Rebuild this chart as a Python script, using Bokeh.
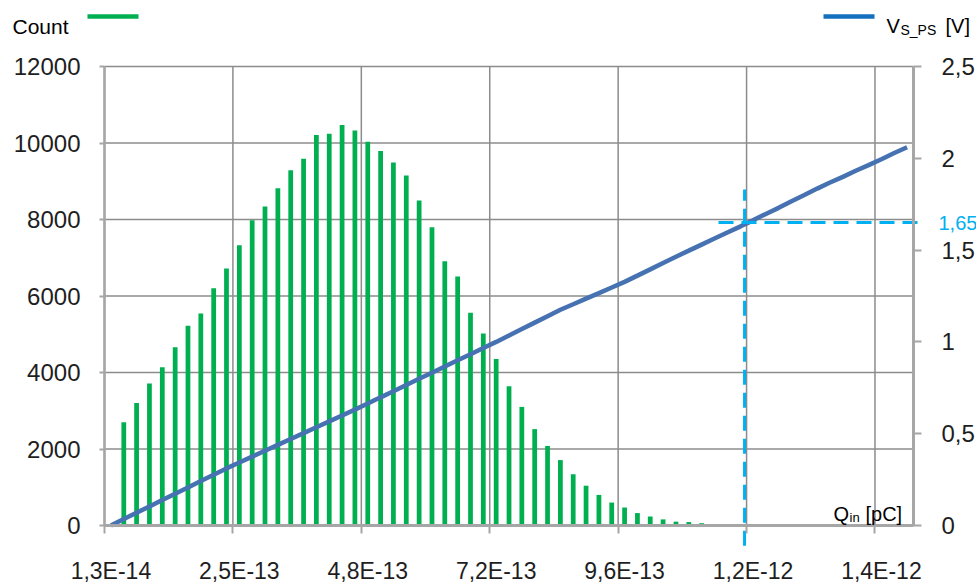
from bokeh.plotting import figure
from bokeh.models import Range1d, LinearAxis, FixedTicker, Label
from bokeh.embed import file_html
from bokeh.resources import INLINE

# Input charge bins, in pC (bin centres)
Q_PC = [0.0130, 0.0366, 0.0601, 0.0837, 0.1073, 0.1309, 0.1544, 0.1780, 0.2016, 0.2251,
        0.2487, 0.2723, 0.2958, 0.3194, 0.3430, 0.3666, 0.3901, 0.4137, 0.4373, 0.4608,
        0.4844, 0.5080, 0.5315, 0.5551, 0.5787, 0.6023, 0.6258, 0.6494, 0.6730, 0.6965,
        0.7201, 0.7437, 0.7672, 0.7908, 0.8144, 0.8380, 0.8615, 0.8851, 0.9087, 0.9322,
        0.9558, 0.9794, 1.0029, 1.0265, 1.0501, 1.0737, 1.0972, 1.1208, 1.1444, 1.1679,
        1.1915, 1.2151, 1.2386, 1.2622, 1.2858, 1.3094, 1.3329, 1.3565, 1.3801, 1.4036,
        1.4272, 1.4508, 1.4743]

# Number of events per charge bin
COUNT = [0, 2700, 3200, 3710, 4140, 4660, 5220, 5540, 6200, 6720,
         7330, 7980, 8340, 8820, 9290, 9590, 10210, 10240, 10470, 10330,
         10030, 9790, 9490, 9150, 8500, 7800, 6910, 6510, 5560, 5020,
         4350, 3640, 3100, 2520, 2080, 1710, 1340, 1040, 800, 600,
         470, 325, 235, 160, 100, 90, 60, 25, 0, 0,
         0, 0, 0, 0, 0, 0, 0, 0, 0, 0,
         0, 0, 0]

# Preamplifier output voltage V_S_PS per charge bin, in V
V_SPS = [0.000, 0.035, 0.070, 0.104, 0.139, 0.173, 0.207, 0.242, 0.276, 0.311,
         0.343, 0.375, 0.407, 0.439, 0.471, 0.503, 0.535, 0.567, 0.599, 0.631,
         0.664, 0.698, 0.731, 0.765, 0.799, 0.832, 0.866, 0.900, 0.933, 0.967,
         1.000, 1.035, 1.070, 1.105, 1.140, 1.175, 1.205, 1.236, 1.266, 1.296,
         1.327, 1.361, 1.395, 1.430, 1.464, 1.497, 1.530, 1.563, 1.596, 1.628,
         1.662, 1.697, 1.730, 1.766, 1.800, 1.835, 1.868, 1.899, 1.932, 1.963,
         1.995, 2.029, 2.060]

# Category labels shown every tenth bin
X_LABEL_BINS = [0, 10, 20, 30, 40, 50, 60]
X_TICK_LABELS = ["1,3E-14", "2,5E-13", "4,8E-13", "7,2E-13", "9,6E-13", "1,2E-12", "1,4E-12"]

COUNT_TICKS = [0, 2000, 4000, 6000, 8000, 10000, 12000]
V_TICKS = [0, 0.5, 1, 1.5, 2, 2.5]
V_TICK_LABELS = ["0", "0,5", "1", "1,5", "2", "2,5"]

# Threshold marker
V_TH = 1.65
Q_TH = 1.176

GREEN = "#00B050"
BLUE = "#4672B2"
CYAN = "#00B0F0"
AXIS_GREY = "#A6A6A6"
GRID_GREY = "#8C8C8C"
TEXT = "#1E1E1E"
FONT = "Liberation Sans"

# page geometry: canvas size and plot-area box (left, top, right, bottom)
W, H = 976, 586
BOX_L, BOX_T, BOX_R, BOX_B = 104, 66, 913, 525
COUNT_MAX, V_MAX = 12000, 2.5

# bin edges (category boundaries)
half = (Q_PC[1] - Q_PC[0]) / 2
edges = [Q_PC[0] - half] + [(a + b) / 2 for a, b in zip(Q_PC[:-1], Q_PC[1:])] + [Q_PC[-1] + half]
grid_edges = [edges[i] for i in X_LABEL_BINS]
x0, x1 = edges[0], edges[-1]

# the frame spans the whole canvas; ranges are widened so the plot box sits where wanted
kx = (x1 - x0) / (BOX_R - BOX_L)
ky = COUNT_MAX / (BOX_B - BOX_T)
kv = V_MAX / (BOX_B - BOX_T)
x_range = Range1d(x0 - BOX_L * kx, x1 + (W - BOX_R) * kx)
y_range = Range1d(-(H - BOX_B) * ky, COUNT_MAX + BOX_T * ky)

p = figure(width=W, height=H, output_backend="svg", toolbar_location=None,
           x_range=x_range, y_range=y_range, min_border=0,
           background_fill_color="white", border_fill_color="white",
           outline_line_color=None)
p.grid.visible = False

p.extra_y_ranges = {"volt": Range1d(-(H - BOX_B) * kv, V_MAX + BOX_T * kv),
                    "page_y": Range1d(H, 0)}
p.extra_x_ranges = {"page_x": Range1d(0, W)}

# grid lines inside the plot box
p.segment(x0=grid_edges, y0=[0] * len(grid_edges), x1=grid_edges, y1=[COUNT_MAX] * len(grid_edges),
          line_color=GRID_GREY, line_width=1.5)
p.segment(x0=[x0] * len(COUNT_TICKS), y0=COUNT_TICKS, x1=[x1] * len(COUNT_TICKS), y1=COUNT_TICKS,
          line_color=GRID_GREY, line_width=1.5)

# histogram bars
p.vbar(x=Q_PC, top=COUNT, width=0.37 * 2 * half, fill_color=GREEN, line_color=None)

# output voltage curve
p.line(x=Q_PC, y=V_SPS, y_range_name="volt", line_color=BLUE, line_width=4.5)

# threshold markers
p.line(x=[Q_TH, Q_TH], y=[-0.11, 1.83], y_range_name="volt",
       line_color=CYAN, line_width=3, line_dash="15 8")
p.line(x=[718, 917], y=[V_TH, V_TH], x_range_name="page_x", y_range_name="volt",
       line_color=CYAN, line_width=3, line_dash="15 8")
p.add_layout(Label(x=938, y=V_TH, text="1,65", x_range_name="page_x", y_range_name="volt",
                   text_baseline="middle", text_font=FONT, text_font_size="20px", text_color=CYAN))

# x axis: labels on bin centres, ticks on bin boundaries
xa = p.xaxis[0]
xa.fixed_location = 0
xa.bounds = (x0, x1)
xa.ticker = FixedTicker(ticks=[Q_PC[i] for i in X_LABEL_BINS], minor_ticks=grid_edges)
xa.major_label_overrides = {Q_PC[i]: lab for i, lab in zip(X_LABEL_BINS, X_TICK_LABELS)}
xa.major_tick_line_color = None
xa.minor_tick_line_color = AXIS_GREY
xa.minor_tick_line_width = 2
xa.minor_tick_in = 0
xa.minor_tick_out = 8
xa.axis_line_color = AXIS_GREY
xa.axis_line_width = 3
xa.major_label_text_font = FONT
xa.major_label_text_font_size = "23px"
xa.major_label_text_color = TEXT
xa.major_label_standoff = 24

# left count axis
ya = p.yaxis[0]
ya.fixed_location = x0
ya.bounds = (0, COUNT_MAX)
ya.ticker = FixedTicker(ticks=COUNT_TICKS)
ya.major_tick_line_color = AXIS_GREY
ya.major_tick_line_width = 2
ya.major_tick_in = 0
ya.major_tick_out = 5
ya.minor_tick_line_color = None
ya.axis_line_color = AXIS_GREY
ya.axis_line_width = 2.5
ya.major_label_text_font = FONT
ya.major_label_text_font_size = "24px"
ya.major_label_text_color = TEXT
ya.major_label_standoff = 19

# right voltage axis
ra = LinearAxis(y_range_name="volt", fixed_location=x1, bounds=(0, V_MAX),
                ticker=FixedTicker(ticks=V_TICKS),
                major_label_overrides=dict(zip(V_TICKS, V_TICK_LABELS)))
ra.major_tick_line_color = AXIS_GREY
ra.major_tick_line_width = 2
ra.major_tick_in = 0
ra.major_tick_out = 8
ra.minor_tick_line_color = None
ra.axis_line_color = AXIS_GREY
ra.axis_line_width = 3
ra.major_label_text_font = FONT
ra.major_label_text_font_size = "24px"
ra.major_label_text_color = TEXT
ra.major_label_standoff = 20
p.add_layout(ra, "right")


def page_label(x, y, text, size, color="#000000"):
    p.add_layout(Label(x=x, y=y, text=text, x_range_name="page_x", y_range_name="page_y",
                       text_baseline="alphabetic", text_font=FONT, text_font_size=size,
                       text_color=color))


def page_line(xa_, xb_, y, color):
    p.line(x=[xa_, xb_], y=[y, y], x_range_name="page_x", y_range_name="page_y",
           line_color=color, line_width=4.5)


# legend: Count
page_label(12, 26, "Count", "21px")
page_line(87, 138, 16, GREEN)

# legend: V_S_PS [V]
page_line(823, 874, 16, "#1470BE")
page_label(886, 25, "V", "20px")
page_label(900, 29, "S_PS", "14px")
page_label(945, 25, "[V]", "20px")

# x quantity name inside the plot
page_label(833, 513, "Q", "20px")
page_label(849, 517, "in", "13px")
page_label(865, 513, "[pC]", "20px")

open("out.html", "w").write(file_html(p, INLINE))
